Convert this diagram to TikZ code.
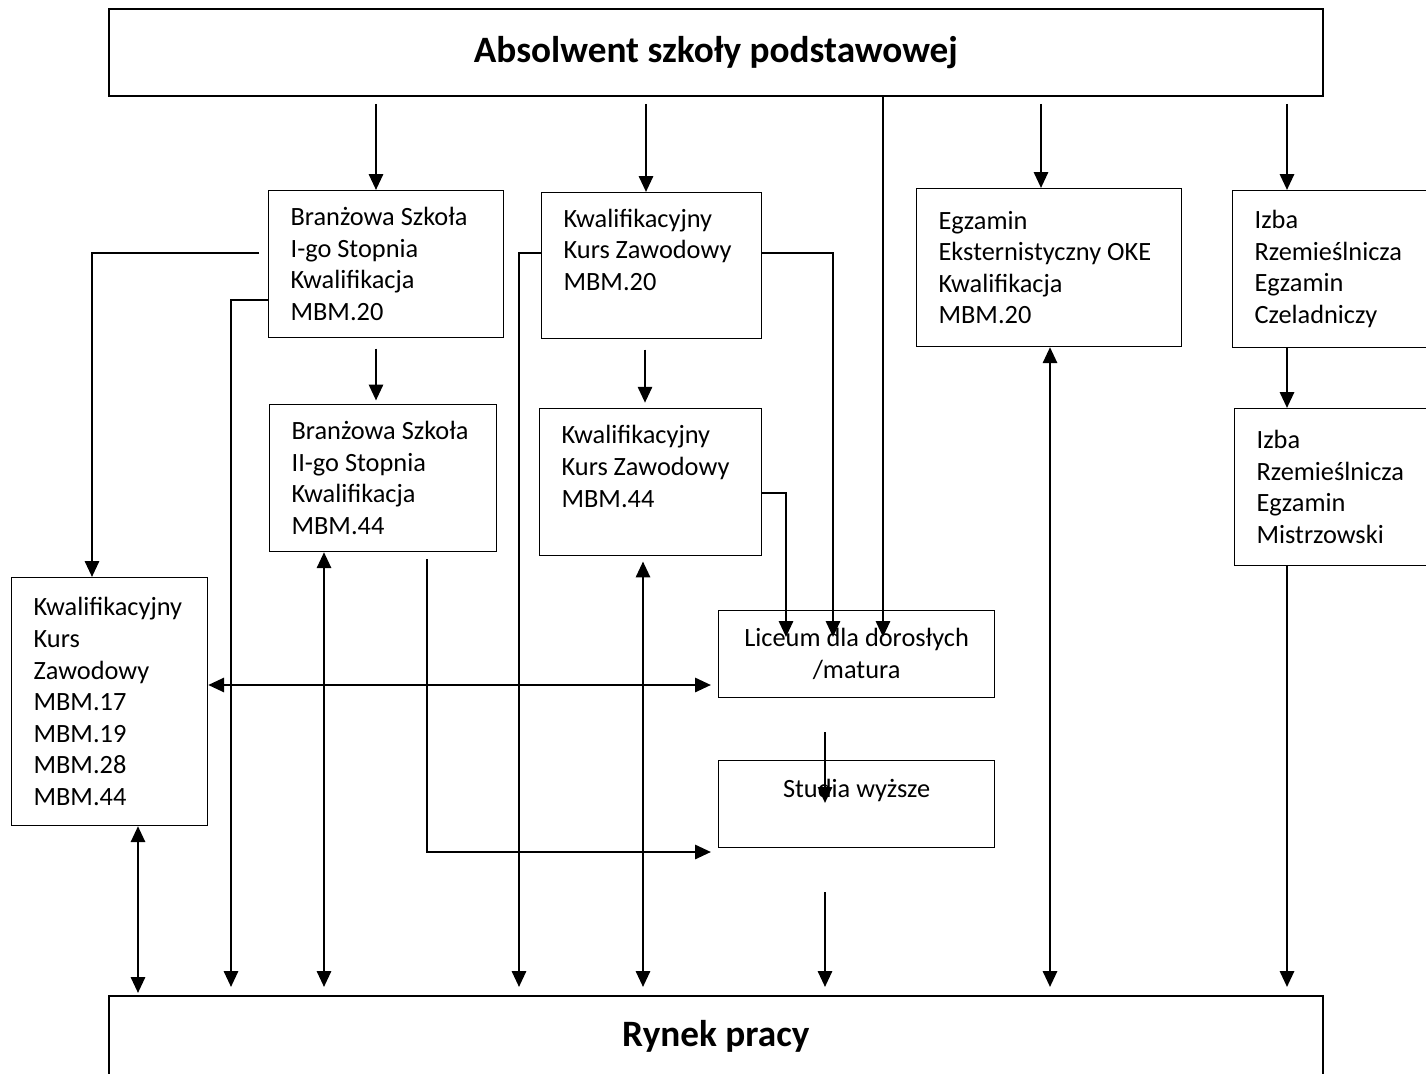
\documentclass[tikz,border=0pt]{standalone}
\usepackage{fontspec}
\setmainfont{Carlito}
\usetikzlibrary{arrows.meta}

\begin{document}
\begin{tikzpicture}[x=0.02cm, y=-0.02cm,
    box/.style={draw, line width=0.7pt, anchor=north west, align=flush left, inner xsep=0.44cm, inner ysep=0pt, font=\fontsize{15}{18}\selectfont},
    cbox/.style={box, align=flush center, inner xsep=0pt, text width=5.52cm},
    bigbox/.style={draw, line width=1.1pt, anchor=north west, minimum width=24.28cm, font=\fontsize{21.2}{25}\selectfont\bfseries},
    arr/.style={-{Triangle[width=8pt,length=9pt]}, line width=1.4pt},
    arrs/.style={{Triangle[width=8pt,length=9pt]}-{Triangle[width=8pt,length=9pt]}, line width=1.4pt},
    endgap/.style={shorten >=0.16cm},
    tipin/.style={shorten >=-0.54cm}]
    \useasboundingbox (0,0) rectangle (1426,1074);

    % Top and bottom
    \node[bigbox, minimum height=1.74cm] (top) at (108,8) {Absolwent szkoły podstawowej};
    \node[bigbox, minimum height=1.6cm] (ry) at (108,995) {Rynek pracy};

    % Schools and courses
    \node[box, text width=3.82cm, minimum height=2.94cm] (b1) at (268,190) {Branżowa Szkoła\\I-go Stopnia\\Kwalifikacja\\MBM.20};
    \node[box, text width=3.66cm, minimum height=2.94cm] (b2) at (269,404) {Branżowa Szkoła\\II-go Stopnia\\Kwalifikacja\\MBM.44};
    \node[box, text width=3.52cm, minimum height=2.92cm] (k1) at (541,192) {Kwalifikacyjny\\Kurs Zawodowy\\MBM.20\\~};
    \node[box, text width=3.56cm, minimum height=2.94cm] (k2) at (539,408) {Kwalifikacyjny\\Kurs Zawodowy\\MBM.44\\~};
    \node[box, text width=4.42cm, minimum height=3.16cm] (oke) at (916,188) {Egzamin\\Eksternistyczny OKE\\Kwalifikacja\\MBM.20};
    \node[box, text width=3.28cm, minimum height=3.14cm] (iz1) at (1232,190) {Izba\\Rzemieślnicza\\Egzamin\\Czeladniczy};
    \node[box, text width=3.24cm, minimum height=3.14cm] (iz2) at (1234,408) {Izba\\Rzemieślnicza\\Egzamin\\Mistrzowski};
    \node[box, text width=3.04cm, minimum height=4.96cm] (kl) at (11,577) {Kwalifikacyjny\\Kurs\\Zawodowy\\MBM.17\\MBM.19\\MBM.28\\MBM.44};
    \node[cbox, minimum height=1.74cm] (lic) at (718,610) {Liceum dla dorosłych\\/matura};
    \node[cbox, minimum height=1.74cm] (stu) at (718,760) {Studia wyższe\\~};

    % From the top box
    \draw[arr, shorten <=4pt] (top.south -| 376,0) -- (b1.north -| 376,0);
    \draw[arr, shorten <=4pt] (top.south -| 646,0) -- (k1.north -| 646,0);
    \draw[arr, tipin] (top.south -| 883,0) -- (lic.north -| 883,0);
    \draw[arr, shorten <=4pt] (top.south -| 1041,0) -- (oke.north -| 1041,0);
    \draw[arr, shorten <=4pt] (top.south -| 1287,0) -- (iz1.north -| 1287,0);

    % Down the columns
    \draw[arr, shorten <=6pt, shorten >=2pt] (b1.south -| 376,0) -- (b2.north -| 376,0);
    \draw[arr, shorten <=6pt, shorten >=3pt] (k1.south -| 645,0) -- (k2.north -| 645,0);
    \draw[arr] (iz1.south -| 1287,0) -- (iz2.north -| 1287,0);
    \draw[arr, endgap] (iz2.south -| 1287,0) -- (ry.north -| 1287,0);

    % Side branches
    \draw[arr, shorten <=0.18cm] (b1.west |- 0,253) -| (kl.north -| 92,0);
    \draw[arr, endgap] (b1.west |- 0,300) -| (ry.north -| 231,0);
    \draw[arr, endgap] (k1.west |- 0,253) -| (ry.north -| 519,0);
    \draw[arr, tipin] (k1.east |- 0,253) -| (lic.north -| 833,0);
    \draw[arr, tipin] (k2.east |- 0,493) -| (lic.north -| 786,0);
    \draw[arr, shorten <=4pt, shorten >=4pt] (b2.south -| 427,0) |- (stu.west |- 0,852);

    % Two-way links
    \draw[arrs, endgap] (b2.south -| 324,0) -- (ry.north -| 324,0);
    \draw[arrs, shorten <=3pt, endgap] (k2.south -| 643,0) -- (ry.north -| 643,0);
    \draw[arrs, endgap] (oke.south -| 1050,0) -- (ry.north -| 1050,0);
    \draw[arrs, shorten >=0.04cm] (kl.south -| 138,0) -- (ry.north -| 138,0);
    \draw[arrs, shorten >=4pt] (kl.east |- 0,685) -- (lic.west |- 0,685);

    % Liceum, studies, market
    \draw[arr, shorten <=0.68cm, shorten >=-0.86cm] (lic.south -| 825,0) -- (stu.north -| 825,0);
    \draw[arr, shorten <=0.88cm, endgap] (stu.south -| 825,0) -- (ry.north -| 825,0);
\end{tikzpicture}
\end{document}
